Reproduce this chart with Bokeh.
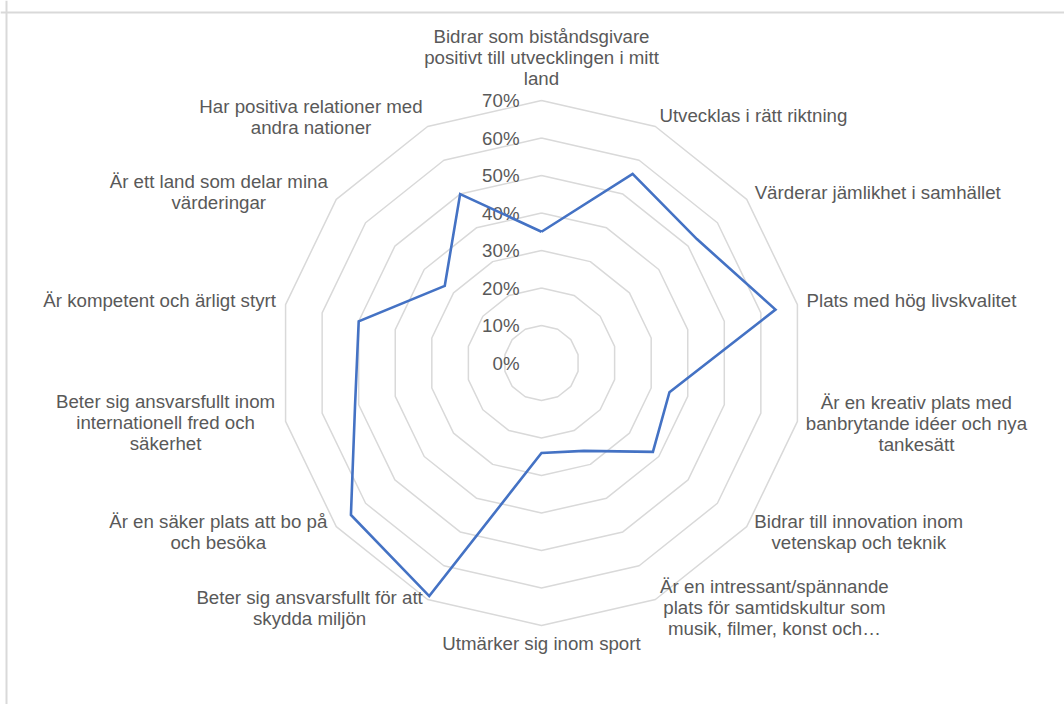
import math
from bokeh.plotting import figure
from bokeh.models import Range1d, ColumnDataSource, Span
from bokeh.core.properties import value
from bokeh.embed import file_html
from bokeh.resources import INLINE

# ---------------- data ----------------
categories = [
    "Bidrar som biståndsgivare\npositivt till utvecklingen i mitt\nland",
    "Utvecklas i rätt riktning",
    "Värderar jämlikhet i samhället",
    "Plats med hög livskvalitet",
    "Är en kreativ plats med\nbanbrytande idéer och nya\ntankesätt",
    "Bidrar till innovation inom\nvetenskap och teknik",
    "Är en intressant/spännande\nplats för samtidskultur som\nmusik, filmer, konst och…",
    "Utmärker sig inom sport",
    "Beter sig ansvarsfullt för att\nskydda miljön",
    "Är en säker plats att bo på\noch besöka",
    "Beter sig ansvarsfullt inom\ninternationell fred och\nsäkerhet",
    "Är kompetent och ärligt styrt",
    "Är ett land som delar mina\nvärderingar",
    "Har positiva relationer med\nandra nationer",
]
values = [35, 56, 53, 64, 35, 38, 26, 24, 69, 65, 51, 50, 33, 50]
tick_values = [0, 10, 20, 30, 40, 50, 60, 70]
tick_labels = ["0%", "10%", "20%", "30%", "40%", "50%", "60%", "70%"]

# ---------------- layout / style ----------------
W, H = 1064, 704
PX_PER_UNIT = 3.75          # pixels per percentage point
CX, CY = 541, 362.5         # centre of the radar in canvas pixels
FONT = "Liberation Sans"
TEXT_COLOR = "#595959"
GRID_COLOR = "#d9d9d9"
LINE_COLOR = "#4472C4"
FS = "18.7px"

# label offsets (pixels) from the outer-ring vertex to the label block centre
label_offsets = [
    (0, -43), (98, -11), (131, -7), (114, -4), (119, 2), (112, 5.5), (119, 8.3),
    (0, 18), (-118, 8.8), (-118, 5.8), (-120, 1.1), (-126, -4), (-117.5, -7), (-116.6, -9.7),
]

n = len(categories)
angles = [math.pi / 2 - 2 * math.pi * i / n for i in range(n)]

x0 = -CX / PX_PER_UNIT
x1 = (W - CX) / PX_PER_UNIT
y1 = CY / PX_PER_UNIT
y0 = -(H - CY) / PX_PER_UNIT

p = figure(width=W, height=H, output_backend="svg", toolbar_location=None,
           x_range=Range1d(x0, x1), y_range=Range1d(y0, y1),
           min_border=0, outline_line_color=None, background_fill_color="white")
p.axis.visible = False
p.grid.visible = False

# chart-area border (top and left visible)
p.add_layout(Span(location=x0 + 6 / PX_PER_UNIT, dimension="height",
                  line_color=GRID_COLOR, line_width=2))
p.add_layout(Span(location=y1 - 12 / PX_PER_UNIT, dimension="width",
                  line_color=GRID_COLOR, line_width=2))

# grid rings
ring_xs, ring_ys = [], []
for v in tick_values[1:]:
    xs = [v * math.cos(a) for a in angles] + [v * math.cos(angles[0])]
    ys = [v * math.sin(a) for a in angles] + [v * math.sin(angles[0])]
    ring_xs.append(xs)
    ring_ys.append(ys)
p.multi_line(ring_xs, ring_ys, line_color=GRID_COLOR, line_width=1.5)

# tick labels
p.text(x=[0] * len(tick_values), y=tick_values, text=tick_labels,
       x_offset=-22, text_align="right", text_baseline="middle",
       text_font=value(FONT), text_font_size=FS, text_color=TEXT_COLOR)

# data line
dx = [v * math.cos(a) for v, a in zip(values, angles)]
dy = [v * math.sin(a) for v, a in zip(values, angles)]
p.line(dx + [dx[0]], dy + [dy[0]], line_color=LINE_COLOR, line_width=2.6,
       line_join="miter")

# category labels
rmax = tick_values[-1]
src = ColumnDataSource(dict(
    x=[rmax * math.cos(a) for a in angles],
    y=[rmax * math.sin(a) for a in angles],
    text=categories,
    xo=[o[0] for o in label_offsets],
    yo=[o[1] for o in label_offsets],
))
p.text(x="x", y="y", text="text", x_offset="xo", y_offset="yo", source=src,
       text_align="center", text_baseline="middle", text_line_height=1.0,
       text_font=value(FONT), text_font_size=FS, text_color=TEXT_COLOR)

open("out.html", "w").write(file_html(p, INLINE))
